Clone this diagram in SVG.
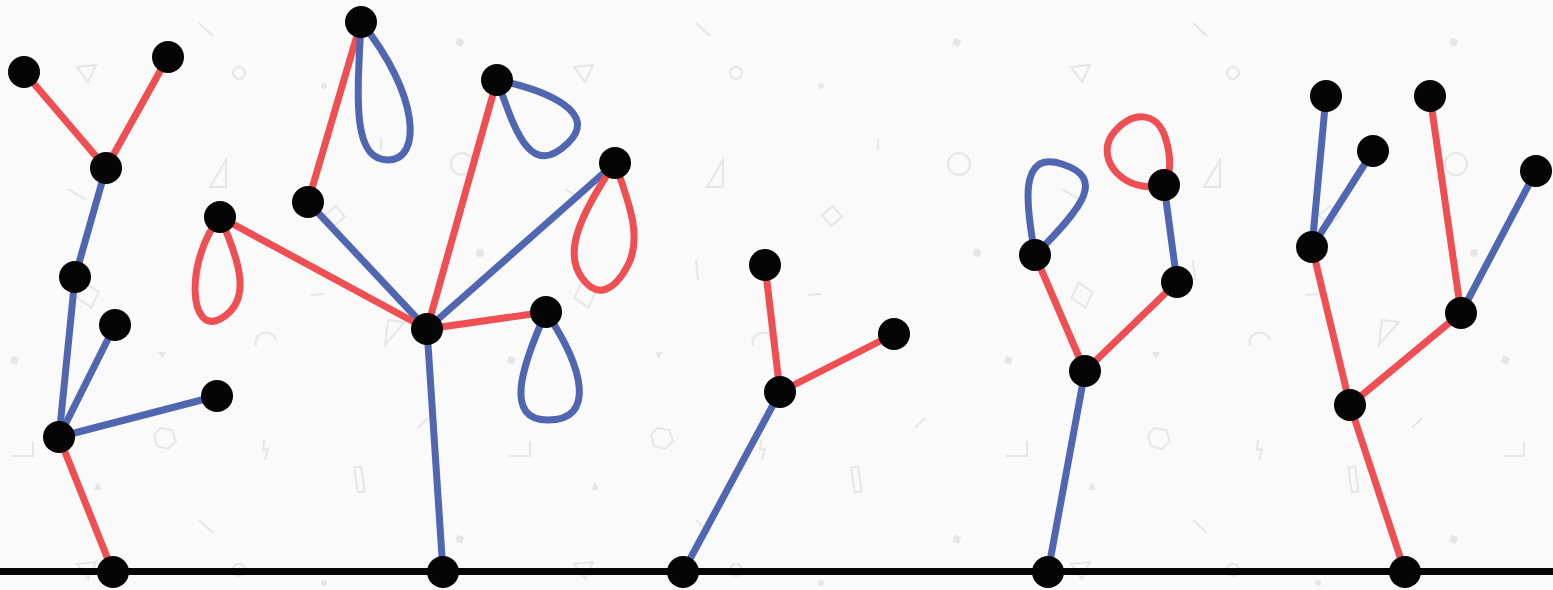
<svg xmlns="http://www.w3.org/2000/svg" width="1553" height="590" viewBox="0 0 1553 590">
<style>
.e{fill:none;stroke-width:7;stroke-linecap:round}
.r{stroke:#ef4f52}
.b{stroke:#5166b0}
.n{fill:#050505}
.p{fill:none;stroke:#e6e6e6;stroke-width:2}
.pf{fill:#e6e6e6}
</style>
<defs>
<pattern id="bg" x="0" y="0" width="497" height="497" patternUnits="userSpaceOnUse">
<line class="p" x1="199" y1="23" x2="213" y2="36"/>
<rect class="pf" x="456" y="39" width="7" height="7" transform="rotate(20 460 43)"/>
<path class="p" d="M77,67 L96,65 L88,82 Z"/>
<circle class="p" cx="239" cy="73" r="6"/>
<circle class="pf" cx="324" cy="86" r="3"/>
<line class="p" x1="381" y1="139" x2="381" y2="150"/>
<circle class="p" cx="462" cy="164" r="11"/>
<path class="p" d="M226,160 L226,187 L210,187 Z"/>
<line class="p" x1="68" y1="189" x2="86" y2="200"/>
<path class="p" d="M335,206 L345,216 L335,226 L325,216 Z" transform="rotate(5 335 216)"/>
<circle class="pf" cx="480" cy="253" r="4"/>
<line class="p" x1="199" y1="260" x2="201" y2="280"/>
<path class="p" d="M88,282 L99,295 L88,308 L77,295 Z" transform="rotate(-15 88 295)"/>
<line class="p" x1="311" y1="295" x2="324" y2="294"/>
<rect class="pf" x="11" y="357" width="7" height="7" transform="rotate(20 15 360)"/>
<path class="p" d="M256,346 A10,10 0 0 1 276,340"/>
<path class="pf" d="M158,352 L166,352 L162,359 Z"/>
<path class="p" d="M405,322 L385,345 L388,320 Z"/>
<line class="p" x1="418" y1="428" x2="428" y2="418"/>
<path class="p" d="M160,428 L172,430 L176,441 L168,449 L157,446 L154,435 Z"/>
<path class="p" d="M12,456 L33,456 L33,441"/>
<path class="p" d="M264,440 L263,450 L268,449 L265,460"/>
<rect class="p" x="356" y="467" width="7" height="25" transform="rotate(-8 360 480)"/>
<path class="pf" d="M98,482 L102,490 L94,490 Z"/>
<line class="p" x1="199" y1="520" x2="213" y2="533"/>
</pattern>
</defs>
<rect x="0" y="0" width="1553" height="590" fill="#fafafa"/>
<rect x="0" y="0" width="1553" height="590" fill="url(#bg)"/>
<line x1="0" y1="571.5" x2="1553" y2="571.5" stroke="#050505" stroke-width="7"/>
<g id="connectors">
<line class="e r" x1="113" y1="572" x2="59" y2="437"/>
<line class="e b" x1="59" y1="437" x2="75" y2="277"/>
<line class="e b" x1="75" y1="277" x2="106" y2="168"/>
<line class="e r" x1="106" y1="168" x2="24" y2="72"/>
<line class="e r" x1="106" y1="168" x2="168" y2="57"/>
<line class="e b" x1="59" y1="437" x2="115" y2="325"/>
<line class="e b" x1="59" y1="437" x2="217" y2="396"/>
<line class="e b" x1="443" y1="572" x2="427" y2="329"/>
<line class="e b" x1="427" y1="329" x2="308" y2="202"/>
<line class="e r" x1="308" y1="202" x2="361" y2="22"/>
<path class="e b" d="M361,22 C357,100 352,160 388,160 C422,160 420,95 361,22"/>
<line class="e r" x1="427" y1="329" x2="220" y2="217"/>
<path class="e r" d="M220,217 C185,260 188,338 222,318 C252,300 240,262 220,217"/>
<line class="e r" x1="427" y1="329" x2="497" y2="80"/>
<path class="e b" d="M497,80 C545,90 600,112 568,143 C530,180 515,130 497,80"/>
<line class="e b" x1="427" y1="329" x2="615" y2="163"/>
<path class="e r" d="M615,163 C575,222 565,255 582,278 C598,300 615,290 628,265 C642,238 630,205 615,163"/>
<line class="e r" x1="427" y1="329" x2="546" y2="312"/>
<path class="e b" d="M546,312 C520,370 505,420 548,420 C595,420 585,370 546,312"/>
<line class="e b" x1="683" y1="572" x2="780" y2="392"/>
<line class="e r" x1="780" y1="392" x2="765" y2="265"/>
<line class="e r" x1="780" y1="392" x2="894" y2="334"/>
<line class="e b" x1="1048" y1="572" x2="1085" y2="371"/>
<line class="e r" x1="1085" y1="371" x2="1035" y2="255"/>
<path class="e b" d="M1035,255 C1026,205 1018,150 1062,164 C1105,178 1085,205 1035,255"/>
<line class="e r" x1="1085" y1="371" x2="1177" y2="282"/>
<line class="e b" x1="1177" y1="282" x2="1164" y2="185"/>
<path class="e r" d="M1164,185 C1125,195 1095,160 1112,135 C1130,110 1158,110 1166,140 C1172,160 1170,175 1164,185"/>
<line class="e r" x1="1405" y1="572" x2="1350" y2="405"/>
<line class="e r" x1="1350" y1="405" x2="1312" y2="247"/>
<line class="e b" x1="1312" y1="247" x2="1326" y2="96"/>
<line class="e b" x1="1312" y1="247" x2="1373" y2="151"/>
<line class="e r" x1="1350" y1="405" x2="1461" y2="313"/>
<line class="e r" x1="1461" y1="313" x2="1430" y2="96"/>
<line class="e b" x1="1461" y1="313" x2="1536" y2="171"/>
</g>
<g id="n1"><circle class="n" cx="113" cy="572" r="16"/></g>
<g id="n2"><circle class="n" cx="59" cy="437" r="16"/></g>
<g id="n3"><circle class="n" cx="75" cy="277" r="16"/></g>
<g id="n4"><circle class="n" cx="106" cy="168" r="16"/></g>
<g id="n5"><circle class="n" cx="24" cy="72" r="16"/></g>
<g id="n6"><circle class="n" cx="168" cy="57" r="16"/></g>
<g id="n7"><circle class="n" cx="115" cy="325" r="16"/></g>
<g id="n8"><circle class="n" cx="217" cy="396" r="16"/></g>
<g id="n9"><circle class="n" cx="443" cy="572" r="16"/></g>
<g id="n10"><circle class="n" cx="427" cy="329" r="16"/></g>
<g id="n11"><circle class="n" cx="308" cy="202" r="16"/></g>
<g id="n12"><circle class="n" cx="361" cy="22" r="16"/></g>
<g id="n13"><circle class="n" cx="220" cy="217" r="16"/></g>
<g id="n14"><circle class="n" cx="497" cy="80" r="16"/></g>
<g id="n15"><circle class="n" cx="615" cy="163" r="16"/></g>
<g id="n16"><circle class="n" cx="546" cy="312" r="16"/></g>
<g id="n17"><circle class="n" cx="683" cy="572" r="16"/></g>
<g id="n18"><circle class="n" cx="780" cy="392" r="16"/></g>
<g id="n19"><circle class="n" cx="765" cy="265" r="16"/></g>
<g id="n20"><circle class="n" cx="894" cy="334" r="16"/></g>
<g id="n21"><circle class="n" cx="1048" cy="572" r="16"/></g>
<g id="n22"><circle class="n" cx="1085" cy="371" r="16"/></g>
<g id="n23"><circle class="n" cx="1035" cy="255" r="16"/></g>
<g id="n24"><circle class="n" cx="1177" cy="282" r="16"/></g>
<g id="n25"><circle class="n" cx="1164" cy="185" r="16"/></g>
<g id="n26"><circle class="n" cx="1405" cy="572" r="16"/></g>
<g id="n27"><circle class="n" cx="1350" cy="405" r="16"/></g>
<g id="n28"><circle class="n" cx="1312" cy="247" r="16"/></g>
<g id="n29"><circle class="n" cx="1326" cy="96" r="16"/></g>
<g id="n30"><circle class="n" cx="1373" cy="151" r="16"/></g>
<g id="n31"><circle class="n" cx="1461" cy="313" r="16"/></g>
<g id="n32"><circle class="n" cx="1430" cy="96" r="16"/></g>
<g id="n33"><circle class="n" cx="1536" cy="171" r="16"/></g>
</svg>
